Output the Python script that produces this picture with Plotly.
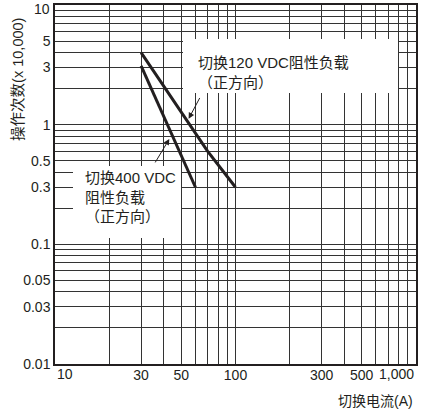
import numpy as np
import plotly.graph_objects as go

# ---- data ----
I_120 = [30, 70, 100]          # switching current (A)
N_120 = [4.0, 0.6, 0.3]        # operations (x 10,000)
I_400 = [30, 60]
N_400 = [3.1, 0.3]

X_GRID = [20, 30, 40, 50, 60, 70, 80, 90, 100, 200, 300, 400, 500, 600, 700, 800, 900, 1000]
X_LABELS = {30: "30", 50: "50", 100: "100", 300: "300", 500: "500"}
X_END_LABELS = [(10, "10", "left"), (1000, "1,000", "right")]

Y_GRID = [0.01, 0.02, 0.03, 0.04, 0.05, 0.06, 0.07, 0.08, 0.09,
          0.1, 0.2, 0.3, 0.4, 0.5, 0.6, 0.7, 0.8, 0.9,
          1, 2, 3, 4, 5, 6, 7, 8, 9, 10]
Y_LABELS = {0.01: "0.01", 0.03: "0.03", 0.05: "0.05", 0.1: "0.1", 0.3: "0.3",
            0.5: "0.5", 1: "1", 3: "3", 5: "5"}
Y_TOP_LABEL = (10, "10")

LABEL_120 = "切换120 VDC阻性负载<br>（正方向）"
LABEL_400 = "切换400 VDC<br>阻性负载<br>（正方向）"
ARROW_120 = dict(tip=(55, 1.12), tail=(64, 1.72))
ARROW_400 = dict(tip=(43, 0.76), tail=(35.5, 0.47))
X_TITLE = "切换电流(A)"
Y_TITLE = "操作次数(x 10,000)"

INK = "#231f20"
FONT = "Liberation Sans, Arial, Noto Sans CJK SC, sans-serif"

fig = go.Figure()
fig.add_trace(go.Scatter(x=I_120, y=N_120, mode="lines",
                         line=dict(color=INK, width=3), showlegend=False))
fig.add_trace(go.Scatter(x=I_400, y=N_400, mode="lines",
                         line=dict(color=INK, width=3), showlegend=False))

fig.update_xaxes(type="log", range=[1, 3], tickmode="array", tickvals=X_GRID,
                 ticktext=[X_LABELS.get(v, "") for v in X_GRID],
                 showgrid=True, gridcolor="#333333", gridwidth=1,
                 showline=True, linecolor=INK, linewidth=1.5, mirror=True,
                 ticks="", ticklabelstandoff=-3,
                 tickfont=dict(size=14, color=INK, family=FONT),
                 zeroline=False)
fig.update_yaxes(type="log", range=[-2, 1], tickmode="array", tickvals=Y_GRID,
                 ticktext=[Y_LABELS.get(v, "") for v in Y_GRID],
                 showgrid=True, gridcolor="#333333", gridwidth=1,
                 showline=True, linecolor=INK, linewidth=1.5, mirror=True,
                 ticks="", tickfont=dict(size=14, color=INK, family=FONT),
                 zeroline=False)

ann = []
# white label boxes (pixel sized)
for (x0, ytop, w, h) in [(0.0496, 0.551, 108, 72), (0.355, 0.906, 215, 54)]:
    ann.append(dict(x=x0, y=ytop, xref="paper", yref="paper", text=" ", showarrow=False,
                    xanchor="left", yanchor="top", width=w, height=h, bgcolor="white",
                    borderpad=0, borderwidth=0))
for v, t, anchor in X_END_LABELS:
    ann.append(dict(x=np.log10(v), y=0, xref="x", yref="paper", text=t, showarrow=False,
                    xanchor=anchor, yanchor="top", yshift=0,
                    font=dict(size=14, color=INK, family=FONT)))
ann.append(dict(x=0, y=np.log10(Y_TOP_LABEL[0]), xref="paper", yref="y", text=Y_TOP_LABEL[1],
                showarrow=False, xanchor="right", yanchor="middle", xshift=-3, yshift=-4,
                font=dict(size=14, color=INK, family=FONT)))
ann.append(dict(x=0.997, y=-0.1044, xref="paper", yref="paper", text=X_TITLE, showarrow=False,
                xanchor="right", yanchor="middle", font=dict(size=14, color=INK, family=FONT)))
ann.append(dict(x=-0.1047, y=0.792, xref="paper", yref="paper", text=Y_TITLE, showarrow=False,
                xanchor="center", yanchor="middle", textangle=-90,
                font=dict(size=14.5, color=INK, family=FONT)))
ann.append(dict(x=0.390, y=0.870, xref="paper", yref="paper", text=LABEL_120, showarrow=False,
                xanchor="left", yanchor="top", align="left",
                font=dict(size=15, color=INK, family=FONT)))
ann.append(dict(x=0.0771, y=0.548, xref="paper", yref="paper", text=LABEL_400, showarrow=False,
                xanchor="left", yanchor="top", align="left",
                font=dict(size=15, color=INK, family=FONT)))
for a in (ARROW_120, ARROW_400):
    ann.append(dict(x=np.log10(a["tip"][0]), y=np.log10(a["tip"][1]), xref="x", yref="y",
                    ax=np.log10(a["tail"][0]), ay=np.log10(a["tail"][1]), axref="x", ayref="y",
                    text="", showarrow=True, arrowhead=2, arrowsize=1.2, arrowwidth=1,
                    arrowcolor=INK))

fig.update_layout(width=421, height=414, margin=dict(l=55, r=3, t=3, b=50),
                  plot_bgcolor="white", paper_bgcolor="white",
                  font=dict(family=FONT, color=INK, size=14),
                  annotations=ann, showlegend=False)

fig.write_html("out.html")
